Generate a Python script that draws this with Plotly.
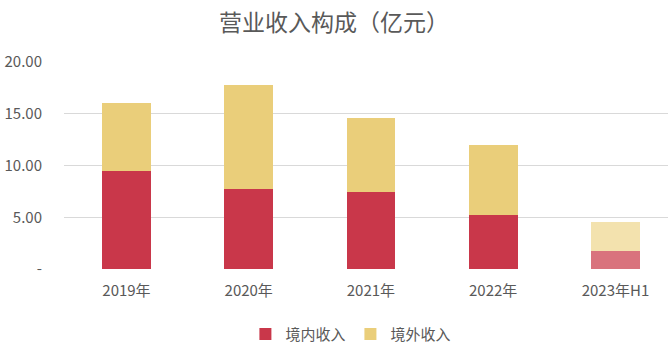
import plotly.graph_objects as go

categories = ["2019年", "2020年", "2021年", "2022年", "2023年H1"]
domestic = [9.47, 7.73, 7.44, 5.22, 1.74]
overseas_total = [16.04, 17.78, 14.59, 11.98, 4.54]
overseas = [round(t - d, 2) for t, d in zip(overseas_total, domestic)]
y_tickvals = [0, 5, 10, 15, 20]
y_ticktext = ["-", "5.00", "10.00", "15.00", "20.00"]

red = ["#C9374A"] * 4 + ["#D9737D"]
yellow = ["#EACE7A"] * 4 + ["#F3E2AE"]

font = "Noto Sans CJK SC, Microsoft YaHei, sans-serif"
gray = "#595959"

fig = go.Figure()
fig.add_trace(go.Bar(x=categories, y=domestic, name="境内收入", marker=dict(color=red, line=dict(width=0)), width=0.4))
fig.add_trace(go.Bar(x=categories, y=overseas, name="境外收入", marker=dict(color=yellow, line=dict(width=0)), width=0.4))

fig.update_layout(
    width=668, height=346,
    barmode="stack",
    paper_bgcolor="white", plot_bgcolor="white",
    margin=dict(l=64, r=0, t=62, b=77, autoexpand=False),
    title=dict(text="营业收入构成（亿元）", x=0.5, xanchor="center", y=0.935, yanchor="middle",
               font=dict(family=font, size=23, color=gray)),
    font=dict(family=font, size=15, color=gray),
    xaxis=dict(range=[-0.511, 4.43], showgrid=False, showline=False, zeroline=False,
               ticks="outside", ticklen=8, tickcolor="rgba(0,0,0,0)",
               tickfont=dict(size=15, color=gray)),
    yaxis=dict(range=[0, 20], tickvals=y_tickvals, ticktext=y_ticktext, showgrid=True,
               gridcolor="#D9D9D9", gridwidth=1, zeroline=False, showline=False,
               ticks="outside", ticklen=18, tickcolor="rgba(0,0,0,0)",
               tickfont=dict(size=15, color=gray)),
    legend=dict(orientation="h", x=0.475, xanchor="center", y=-0.315, yanchor="middle",
                font=dict(size=15, color=gray), itemwidth=30, traceorder="normal"),
    showlegend=True,
)

fig.write_html("out.html")
